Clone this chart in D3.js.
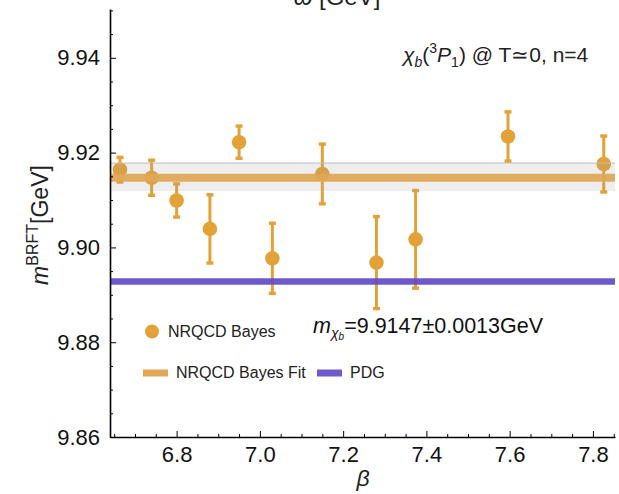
<!DOCTYPE html>
<html><head><meta charset="utf-8">
<script src="https://cdn.jsdelivr.net/npm/d3@7"></script>
<style>
body{margin:0;background:#fff;}
svg{display:block;font-family:"Liberation Sans",Arial,sans-serif;}
</style></head>
<body>
<svg id="c" width="619" height="494"></svg>
<script>
// ---- data ----
const beta   = [6.664, 6.74, 6.80, 6.88, 6.95, 7.03, 7.15, 7.28, 7.374, 7.596, 7.826];
const mass   = [9.9164, 9.9147, 9.9099, 9.9039, 9.9222, 9.8977, 9.9155, 9.8968, 9.9017, 9.9234, 9.9176];
const massErr= [0.0026, 0.0037, 0.0035, 0.0072, 0.0034, 0.0074, 0.0063, 0.0097, 0.0103, 0.0052, 0.0059];
const fitValue = [9.9147];
const fitBand  = [9.9119, 9.9178];
const pdgValue = [9.8928];
const xTicks = [6.8, 7.0, 7.2, 7.4, 7.6, 7.8];
const yTicks = [9.86, 9.88, 9.90, 9.92, 9.94];
const xDomain = [6.64, 7.853];
const yDomain = [9.86, 9.9503];

const orange = "#E3A238", fitOrange = "#E2A755", purple = "#5F47C6";

const svg = d3.select("#c");
const L = 110, R = 615, T = 9, B = 437;
const x = d3.scaleLinear().domain(xDomain).range([L, R]);
const y = d3.scaleLinear().domain(yDomain).range([B, T]);

const plot = svg.append("g");
const pts = beta.map((b,i)=>({b, m:mass[i], e:massErr[i]}));

// error bars
const eb = plot.append("g");
pts.forEach(p=>{
  eb.append("line").attr("x1",x(p.b)).attr("x2",x(p.b))
    .attr("y1",y(p.m+p.e)).attr("y2",y(p.m-p.e))
    .attr("stroke",orange).attr("stroke-width",3);
  [p.m+p.e, p.m-p.e].forEach(v=>{
    eb.append("rect").attr("x",x(p.b)-3.5).attr("y",y(v)-1.7)
      .attr("width",7).attr("height",3.4).attr("fill",orange);
  });
});
plot.append("g").selectAll("circle").data(pts).join("circle")
  .attr("cx",d=>x(d.b)).attr("cy",d=>y(d.m)).attr("r",7.3).attr("fill",orange);

// fit band (gray) and lines drawn on top
plot.append("rect").attr("x",L).attr("width",R-L)
  .attr("y",y(fitBand[1])).attr("height",y(fitBand[0])-y(fitBand[1]))
  .attr("fill","#a0a0a0").attr("opacity",0.18);
plot.append("line").attr("x1",L).attr("x2",R)
  .attr("y1",y(fitBand[1])).attr("y2",y(fitBand[1]))
  .attr("stroke","#bdbdbd").attr("stroke-width",1);
plot.append("line").attr("x1",L).attr("x2",R)
  .attr("y1",y(fitValue[0])).attr("y2",y(fitValue[0]))
  .attr("stroke",fitOrange).attr("stroke-width",8).attr("opacity",0.92);
plot.append("line").attr("x1",L).attr("x2",R)
  .attr("y1",y(pdgValue[0])).attr("y2",y(pdgValue[0]))
  .attr("stroke",purple).attr("stroke-width",6.5).attr("opacity",0.9);

// axes
const xMinor = d3.range(6.65, 7.851, 0.05).filter(v=>!xTicks.some(t=>Math.abs(t-v)<1e-6));
const yMinor = d3.range(9.86, 9.9501, 0.005).filter(v=>!yTicks.some(t=>Math.abs(t-v)<1e-6));

const xAxis = svg.append("g").attr("transform",`translate(0,${B})`)
  .call(d3.axisBottom(x).tickValues(xTicks).tickFormat(d3.format(".1f")).tickSizeInner(-6).tickSizeOuter(0).tickPadding(9));
xAxis.select(".domain").attr("stroke","#000").attr("stroke-width",1.6);
xAxis.selectAll("text").attr("font-size",22).attr("fill","#111").attr("dy","0.71em");
xAxis.selectAll(".tick line").attr("stroke","#000").attr("stroke-width",1);
svg.append("g").attr("transform",`translate(0,${B})`)
  .call(d3.axisBottom(x).tickValues(xMinor).tickFormat("").tickSizeInner(-3).tickSizeOuter(0))
  .call(g=>g.select(".domain").remove());

const yAxis = svg.append("g").attr("transform",`translate(${L},0)`)
  .call(d3.axisLeft(y).tickValues(yTicks).tickFormat(d3.format(".2f")).tickSizeInner(-6).tickSizeOuter(0).tickPadding(10));
yAxis.select(".domain").attr("stroke","#000").attr("stroke-width",1.6);
yAxis.selectAll("text").attr("font-size",22).attr("fill","#111");
yAxis.selectAll(".tick line").attr("stroke","#000").attr("stroke-width",1);
svg.append("g").attr("transform",`translate(${L},0)`)
  .call(d3.axisLeft(y).tickValues(yMinor).tickFormat("").tickSizeInner(-3).tickSizeOuter(0))
  .call(g=>g.select(".domain").remove());

// axis titles
svg.append("text").attr("x",363).attr("y",486).attr("text-anchor","middle")
  .attr("font-size",23).attr("font-style","italic").attr("fill","#222").text("β");
const yt = svg.append("text").attr("transform","translate(48,225) rotate(-90)")
  .attr("text-anchor","middle").attr("font-size",23).attr("fill","#222");
yt.append("tspan").attr("font-style","italic").text("m");
yt.append("tspan").attr("font-size",16).attr("dy",-10).text("BRFT");
yt.append("tspan").attr("dy",10).text("[GeV]");

// cut-off top title
const tt = svg.append("text").attr("x",337).attr("y",5).attr("text-anchor","middle")
  .attr("font-size",24).attr("fill","#222");
tt.append("tspan").attr("font-style","italic").text("ω");
tt.append("tspan").text(" [GeV]");

// state label
const st = svg.append("text").attr("x",403).attr("y",62).attr("font-size",21).attr("fill","#222");
st.append("tspan").attr("font-style","italic").text("χ");
st.append("tspan").attr("font-style","italic").attr("font-size",14).attr("dy",5).text("b");
st.append("tspan").attr("dy",-5).text("(");
st.append("tspan").attr("font-size",14).attr("dy",-9).text("3");
st.append("tspan").attr("font-style","italic").attr("dy",9).text("P");
st.append("tspan").attr("font-size",14).attr("dy",5).text("1");
st.append("tspan").attr("dy",-5).text(") @ T≃0, n=4");

// fit annotation
const an = svg.append("text").attr("x",313).attr("y",333).attr("font-size",21.5).attr("fill","#111");
an.append("tspan").attr("font-style","italic").text("m");
an.append("tspan").attr("font-style","italic").attr("font-size",14).attr("dy",5).text("χ");
an.append("tspan").attr("font-style","italic").attr("font-size",10).attr("dy",2).text("b");
an.append("tspan").attr("dy",-7).text("=9.9147±0.0013GeV");

// legend
const lg = svg.append("g").attr("font-size",16).attr("fill","#222");
lg.append("circle").attr("cx",152).attr("cy",331.5).attr("r",7).attr("fill",orange);
lg.append("text").attr("x",168).attr("y",337).text("NRQCD Bayes");
lg.append("rect").attr("x",143).attr("y",369.5).attr("width",25).attr("height",7).attr("fill",fitOrange);
lg.append("text").attr("x",176).attr("y",378).text("NRQCD Bayes Fit");
lg.append("rect").attr("x",317).attr("y",369.5).attr("width",25).attr("height",7).attr("fill",purple).attr("opacity",0.9);
lg.append("text").attr("x",350).attr("y",378).text("PDG");
</script>
</body></html>
